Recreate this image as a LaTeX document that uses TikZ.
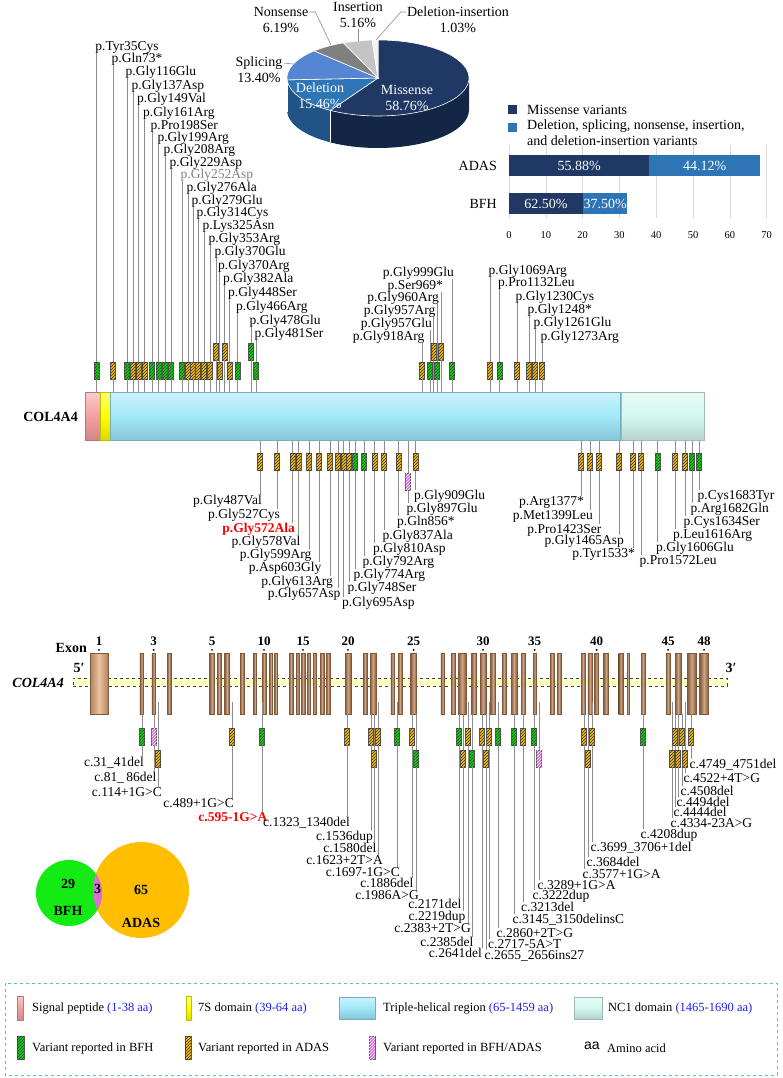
\documentclass[tikz,border=0pt]{standalone}
\usepackage{fontspec}
\setmainfont{Liberation Serif}
\newfontfamily\aafont{Liberation Sans}
\usetikzlibrary{patterns}

\definecolor{missc}{RGB}{31,56,100}
\definecolor{missd}{RGB}{20,38,70}
\definecolor{delc}{RGB}{46,117,182}
\definecolor{deld}{RGB}{32,84,134}
\definecolor{splc}{RGB}{84,134,212}
\definecolor{spld}{RGB}{60,100,170}
\definecolor{nonc}{RGB}{128,128,128}
\definecolor{insc}{RGB}{196,196,196}
\definecolor{dinc}{RGB}{242,242,242}
\definecolor{barmis}{RGB}{31,56,100}
\definecolor{barot}{RGB}{46,117,182}
\definecolor{sigc}{RGB}{244,160,160}
\definecolor{sevc}{RGB}{255,255,0}
\definecolor{thc}{RGB}{160,232,250}
\definecolor{ncc}{RGB}{212,248,240}
\definecolor{vgc}{RGB}{0,220,0}
\definecolor{voc}{RGB}{255,192,0}
\definecolor{vpc}{RGB}{226,104,232}
\definecolor{exd}{RGB}{128,88,60}
\definecolor{exl}{RGB}{205,165,130}
\definecolor{ex1d}{RGB}{180,130,95}
\definecolor{ex1l}{RGB}{235,195,160}
\definecolor{glc}{RGB}{255,255,200}
\definecolor{vnor}{RGB}{255,190,0}
\definecolor{vngr}{RGB}{20,235,20}
\definecolor{vnpk}{RGB}{218,112,214}
\definecolor{legc}{RGB}{80,200,180}
\definecolor{aac}{RGB}{30,30,240}

\begin{document}
\begin{tikzpicture}[x=1pt,y=-1pt,
  lbl/.style={inner sep=0pt,font=\fontsize{13.5}{15}\selectfont},
  pielbl/.style={inner sep=0pt,align=center,font=\fontsize{14}{16}\selectfont},
  leg/.style={inner sep=0pt,anchor=west,font=\fontsize{12.5}{14}\selectfont},
  bld/.style={inner sep=0pt,font=\fontsize{14}{16}\selectfont\bfseries},
  varbox/.style={draw=black!65,line width=0.4pt,minimum width=5pt,minimum height=17pt,inner sep=0pt},
  vg/.style={varbox,fill=vgc,postaction={pattern=north east lines,pattern color=black!80}},
  vo/.style={varbox,fill=voc,postaction={pattern=north east lines,pattern color=black!85}},
  vp/.style={varbox,fill=vpc,postaction={pattern=north east lines,pattern color=white}},
  stem/.style={draw=black!45,line width=0.7pt},
  lead/.style={draw=black!45,line width=0.6pt},
  seg/.style={inner sep=0pt,minimum height=48pt,anchor=north west,draw=#1!75!black,line width=0.8pt,
    top color=#1!55!white,bottom color=#1!85!black,middle color=#1},
  barseg/.style={inner sep=0pt,minimum height=21pt,anchor=west,text=white,font=\fontsize{14}{16}\selectfont},
  exon/.style={inner sep=0pt,minimum height=61pt,draw=exd,line width=0.3pt,left color=exd,right color=exd,middle color=exl}]
\useasboundingbox (0,0) rectangle (782,1078);

\begin{scope}[shift={(378,78)},yscale=-1]
  \fill[missd] (238.46:91 and 38) arc[start angle=238.46,end angle=360,x radius=91,y radius=38]
    -- ++(0,-32) arc[start angle=360,end angle=238.46,x radius=91,y radius=38] -- cycle;
  \fill[deld] (182.81:91 and 38) arc[start angle=182.81,end angle=238.46,x radius=91,y radius=38]
    -- ++(0,-32) arc[start angle=238.46,end angle=182.81,x radius=91,y radius=38] -- cycle;
  \fill[spld] (180:91 and 38) arc[start angle=180,end angle=182.81,x radius=91,y radius=38]
    -- ++(0,-32) arc[start angle=182.81,end angle=180,x radius=91,y radius=38] -- cycle;
  \draw[white,line width=0.5pt] (238.46:91 and 38) -- ++(0,-32);
  \draw[white,line width=0.5pt] (182.81:91 and 38) -- ++(0,-32);
  \fill[missc,draw=white,line width=0.6pt] (0,0) -- (-121.54:91 and 38) arc[start angle=-121.54,end angle=90,x radius=91,y radius=38] -- cycle;
  \fill[delc,draw=white,line width=0.6pt] (0,0) -- (182.81:91 and 38) arc[start angle=182.81,end angle=238.46,x radius=91,y radius=38] -- cycle;
  \fill[splc,draw=white,line width=0.6pt] (0,0) -- (134.57:91 and 38) arc[start angle=134.57,end angle=182.81,x radius=91,y radius=38] -- cycle;
  \fill[nonc,draw=white,line width=0.6pt] (0,0) -- (112.28:91 and 38) arc[start angle=112.28,end angle=134.57,x radius=91,y radius=38] -- cycle;
  \fill[insc,draw=white,line width=0.6pt] (0,0) -- (93.7:91 and 38) arc[start angle=93.7,end angle=112.28,x radius=91,y radius=38] -- cycle;
  \fill[dinc,draw=white,line width=0.6pt] (0,0) -- (90:91 and 38) arc[start angle=90,end angle=93.7,x radius=91,y radius=38] -- cycle;
\end{scope}

\node[pielbl,text=white] (misl) at (407,98) {Missense\\58.76\%};
\node[pielbl,text=white] (dell) at (320,96) {Deletion\\15.46\%};
\node[pielbl] (spll) at (259,70) {Splicing\\13.40\%};
\node[pielbl] (nonl) at (281,20) {Nonsense\\6.19\%};
\node[pielbl] (insl) at (358,15) {Insertion\\5.16\%};
\node[pielbl] (dinl) at (458,20) {Deletion-insertion\\1.03\%};
\coordinate (splp) at (293,64);
\coordinate (nonp) at (331,45);
\coordinate (insp) at (358,41);
\coordinate (dinp) at (376,40);
\draw[lead] ([yshift=7pt,xshift=1pt]spll.east) -- (splp);
\draw[lead] ([yshift=8pt,xshift=1pt]nonl.east) -- ++(6,0) -- (nonp);
\draw[lead] ([yshift=-1pt]insl.south) -- (insp);
\draw[lead] ([yshift=8pt,xshift=-1pt]dinl.west) -- ++(-5,0) -- (dinp);

\node[fill=barmis,minimum size=9pt,inner sep=0pt] (lgm) at (512.5,110) {};
\node[pielbl,anchor=west] (lgmt) at (527,110) {Missense variants};
\node[fill=barot,minimum size=9pt,inner sep=0pt] (lgo) at (512.5,128) {};
\node[pielbl,anchor=north west,align=left] (lgot) at (527,120) {Deletion, splicing, nonsense, insertion,\\and deletion-insertion variants};
\foreach \gv in {0,...,7}{
  \draw[black!15,line width=0.6pt] (509+36.8*\gv,145) -- (509+36.8*\gv,218);
  \node[inner sep=0pt,font=\fontsize{10.5}{12}\selectfont] at (509+36.8*\gv,235) {\pgfmathparse{int(10*\gv)}\pgfmathresult};
}
\node[barseg,fill=barmis,minimum width=139.8] (adm) at (509,165.5) {55.88\%};
\node[barseg,fill=barot,minimum width=110.4] (ado) at (adm.east) {44.12\%};
\node[barseg,fill=barmis,minimum width=73.6] (bfm) at (509,203.5) {62.50\%};
\node[barseg,fill=barot,minimum width=44.2] (bfo) at (bfm.east) {37.50\%};
\node[pielbl,anchor=east] (adt) at (497,165.5) {ADAS};
\node[pielbl,anchor=east] (bft) at (497,203.5) {BFH};

\node[seg=sigc,minimum width=15] (sigp) at (85,392) {};
\node[seg=sevc,minimum width=10] (sevs) at (100,392) {};
\node[seg=thc,minimum width=510] (thel) at (110,392) {};
\node[seg=ncc,minimum width=83] (nc1) at (621,392) {};
\node[bld,anchor=east] (pname) at (78,417) {COL4A4};

\foreach \sx/\by/\cl/\an/\lx/\ly/\tx [count=\i] in {
  96.7/370.5/vg/west/95.2/47/p.Tyr35Cys, 113/370.5/vo/west/111.5/59/p.Gln73*,
  127/370.5/vg/west/125.5/72/p.Gly116Glu, 133/370.5/vo/west/131.5/86/p.Gly137Asp,
  138.5/370.5/vo/west/137/99/p.Gly149Val, 144.5/370.5/vo/west/143/113/p.Gly161Arg,
  152/370.5/vg/west/150.5/126/p.Pro198Ser, 158.8/370.5/vg/west/157.3/138/p.Gly199Arg,
  165/370.5/vg/west/163.5/150/p.Gly208Arg, 171/370.5/vg/west/169.5/163/p.Gly229Asp,
  182/370.5/vg/west/180.5/175/{\textcolor{black!50}{p.Gly252Asp}}, 188/370.5/vo/west/186.5/188/p.Gly276Ala,
  193/370.5/vo/west/191.5/201/p.Gly279Glu, 198/370.5/vo/west/196.5/213/p.Gly314Cys,
  204/370.5/vo/west/202.5/226/p.Lys325Asn, 210/370.5/vo/west/208.5/239/p.Gly353Arg,
  216/351.5/vo/west/214.5/252/p.Gly370Glu, 219.5/370.5/vo/west/218/266/p.Gly370Arg,
  224.5/351.5/vo/west/223/279/p.Gly382Ala, 229.5/370.5/vo/west/228/293/p.Gly448Ser,
  237.5/370.5/vg/west/236/307/p.Gly466Arg, 251/351.5/vg/west/249.5/321/p.Gly478Glu,
  256/370.5/vg/west/254.5/334/p.Gly481Ser,
  452/370.5/vg/east/454/273/p.Gly999Glu, 441/351.5/vo/east/443/286/p.Ser969*,
  437/370.5/vg/east/439/298/p.Gly960Arg, 433.5/351.5/vo/east/435.5/311/p.Gly957Arg,
  430/370.5/vg/east/432/324/p.Gly957Glu, 422/370.5/vo/east/424.5/337/p.Gly918Arg,
  490/370.5/vo/west/488.5/271/p.Gly1069Arg, 499.5/370.5/vg/west/498/283/p.Pro1132Leu,
  517/370.5/vo/west/515.5/297/p.Gly1230Cys, 529/370.5/vo/west/527.5/310/p.Gly1248*,
  535/370.5/vo/west/533.5/323/p.Gly1261Glu, 542/370.5/vo/west/540.5/337/p.Gly1273Arg}{
  \node[\cl] (tv\i) at (\sx,\by) {};
  \node[lbl,anchor=\an] (tl\i) at (\lx,\ly) {\tx};
  \draw[stem] (tv\i.north) -- (tv\i.north |- tl\i.south);
  \draw[stem] (tv\i.south) -- (tv\i.south |- thel.north);
}

\foreach \sx/\by/\cl/\an/\lx/\ly/\tx [count=\i] in {
  260/462/vo/east/262/501/p.Gly487Val, 277/462/vo/east/280/515/p.Gly527Cys,
  292.5/462/vo/east/295/529/{\textcolor{red}{\bfseries p.Gly572Ala}}, 298.5/462/vo/east/300.5/542/p.Gly578Val,
  309/462/vo/east/311.5/555/p.Gly599Arg, 319/462/vo/east/321.5/568/p.Asp603Gly,
  330/462/vo/east/333/582/p.Gly613Arg, 338/462/vo/east/340.5/594/p.Gly657Asp,
  343.6/462/vo/west/342/603/p.Gly695Asp, 349/462/vo/west/347.5/588/p.Gly748Ser,
  355/462/vg/west/353.5/575/p.Gly774Arg, 364/462/vg/west/362.5/562/p.Gly792Arg,
  374.6/462/vo/west/373/549/p.Gly810Asp, 384/462/vo/west/382.5/536/p.Gly837Ala,
  398.6/462/vo/west/397/522/p.Gln856*, 408/482/vp/west/406.5/509/p.Gly897Glu,
  415.7/462/vo/west/414/496/p.Gly909Glu,
  581/462/vo/east/584/502/p.Arg1377*, 590/462/vo/east/593/516/p.Met1399Leu,
  599/462/vo/east/601.5/530/p.Pro1423Ser, 619/462/vo/east/624/541/p.Gly1465Asp,
  633/462/vo/east/635/554/p.Tyr1533*, 641/462/vo/west/639.5/561/p.Pro1572Leu,
  657.5/462/vg/west/656/548/p.Gly1606Glu, 675/462/vo/west/673/535/p.Leu1616Arg,
  685/462/vo/west/683.5/522/p.Cys1634Ser, 692/462/vg/west/690.5/509/p.Arg1682Gln,
  699/462/vg/west/697.5/496/p.Cys1683Tyr}{
  \node[\cl] (bv\i) at (\sx,\by) {};
  \node[lbl,anchor=\an] (bl\i) at (\lx,\ly) {\tx};
  \draw[stem] (bv\i.north |- thel.south) -- (bv\i.north);
  \draw[stem] (bv\i.south) -- (bv\i.south |- bl\i.north);
}

\node[draw=black!75,dashed,fill=glc,line width=0.6pt,minimum width=654,minimum height=8,inner sep=0pt,anchor=west] (gline) at (73,682) {};
\node[exon,minimum width=18,left color=ex1d,right color=ex1d,middle color=ex1l] (ex1) at (99,683.5) {};
\foreach \ex/\ew [count=\i from 2] in {141.7/3.5, 153.7/3.5, 169/3.5, 212/5, 219/3.5, 227/5, 242/3.5, 255/3,
  264/3.5, 271/3, 276/3, 291/3.5, 297.5/3, 303/3.5, 308.7/3, 314.5/3, 322/3.5, 328/3.5, 348/6, 365/3.5,
  373/6, 392.6/3.5, 400/4, 413.6/6, 442.6/3.5, 453/4, 462/8, 474/5, 483/6, 493/5, 504/4, 514/6, 523/4,
  534.6/3, 552/4, 559/4, 583/4, 590/4.5, 596.6/4, 606/5, 620.7/4, 628/1.5, 643/4, 668/4, 678/6, 691.7/9, 704/9}
  \node[exon,minimum width=\ew] (ex\i) at (\ex,683.5) {};
\foreach \k in {1,3,5,10,15,20,25,30,35,40,45,48}{
  \fill (ex\k.north) ++(0,-3) circle (1.1);
  \node[bld,font=\fontsize{13}{15}\selectfont\bfseries] at (ex\k |- 0,641) {\k};
}
\node[bld,anchor=east] (exlbl) at (87,648) {Exon};
\node[bld,font=\fontsize{14}{16}\selectfont\bfseries\itshape,anchor=east] (gname) at (64,683) {COL4A4};
\node[bld] (fivep) at (79,668) {5′};
\node[bld] (threep) at (731,668) {3′};

\foreach \sx/\sy/\by/\cl/\an/\lx/\ly/\tx [count=\i] in {
  142/714/736.5/vg/east/144/763/c.31\_41del, 154/714/736.5/vp/east/156.5/778/c.81\_\,86del,
  158/702/758.5/vo/east/162/792/c.114+1G>C, 232/702/736.5/vo/east/234/803/c.489+1G>C,
  262/702/736.5/vg/east/267.5/817/{\textcolor{red}{\bfseries c.595-1G>A}}, 347/714/736.5/vo/east/350/823/c.1323\_1340del,
  371/714/736.5/vo/east/373/837/c.1536dup, 374/714/758.5/vo/east/376.5/848/c.1580del,
  378/702/736.5/vo/east/383/860/c.1623+2T>A, 397/702/736.5/vg/east/400/872/c.1697-1G>C,
  412/714/736.5/vo/east/413.5/883/c.1886del, 416/714/758.5/vg/east/419/895/c.1986A>G,
  459/714/736.5/vg/east/461.5/904/c.2171del, 463/714/758.5/vo/east/465.5/917/c.2219dup,
  468/702/736.5/vo/east/471/928/c.2383+2T>G, 472/714/758.5/vg/east/473.5/942/c.2385del,
  482/714/736.5/vo/east/482/953/c.2641del, 486/714/758.5/vo/west/484.5/956/c.2655\_2656ins27,
  489/702/736.5/vo/west/488/944/c.2717-5A>T, 498/702/736.5/vg/west/496.5/933/c.2860+2T>G,
  514/714/736.5/vg/west/512.5/920/c.3145\_3150delinsC, 523/714/736.5/vo/west/521/907/c.3213del,
  534/714/736.5/vg/west/532.5/896/c.3222dup, 539/702/758.5/vp/west/537.5/885/c.3289+1G>A,
  584/702/736.5/vo/west/582.5/874/c.3577+1G>A, 588/714/758.5/vo/west/586.5/862/c.3684del,
  592/702/736.5/vo/west/590.5/848/c.3699\_3706+1del, 643/714/736.5/vg/west/640.5/835/c.4208dup,
  672/702/758.5/vo/west/670.5/823/c.4334-23A>G, 675/714/736.5/vo/west/673.5/812/c.4444del,
  678/714/758.5/vo/west/676.5/802/c.4494del, 682/714/736.5/vo/west/680.5/791/c.4508del,
  685/702/758.5/vo/west/683.5/778/c.4522+4T>G, 691/714/736.5/vo/west/689.5/765/c.4749\_4751del}{
  \coordinate (gs\i) at (\sx,\sy);
  \node[\cl] (gv\i) at (\sx,\by) {};
  \node[lbl,anchor=\an] (gl\i) at (\lx,\ly) {\tx};
  \draw[stem] (gs\i) -- (gv\i.north);
  \draw[stem] (gv\i.south) -- (gv\i.south |- gl\i.north);
}

\node[circle,fill=vnor,minimum size=96,inner sep=0pt] (adasc) at (141,890) {};
\node[circle,fill=vngr,minimum size=66,inner sep=0pt] (bfhc) at (69,893) {};
\begin{scope}
  \clip (141,890) circle (48);
  \fill[vnpk] (69,893) circle (33);
\end{scope}
\node[bld] (n29) at (68,884) {29};
\node[bld] (nbfh) at (68,911) {BFH};
\node[bld] (n3) at (97.5,889) {3};
\node[bld] (n65) at (141,890) {65};
\node[bld] (nadas) at (141,923) {ADAS};

\draw[legc,dashed,line width=1pt] (5,983) rectangle (777,1075);
\node[seg=sigc,minimum width=6,minimum height=24,anchor=center] (lsig) at (20.5,1008) {};
\node[leg] (tsig) at (32,1008) {Signal peptide \textcolor{aac}{(1-38 aa)}};
\node[seg=sevc,minimum width=5,minimum height=24,anchor=center] (lsev) at (188.5,1008) {};
\node[leg] (tsev) at (198,1008) {7S domain \textcolor{aac}{(39-64 aa)}};
\node[seg=thc,minimum width=36,minimum height=22,anchor=center] (lth) at (357,1008) {};
\node[leg] (tth) at (383,1008) {Triple-helical region \textcolor{aac}{(65-1459 aa)}};
\node[seg=ncc,minimum width=28,minimum height=22,anchor=center] (lnc) at (588,1008) {};
\node[leg] (tnc) at (608,1008) {NC1 domain \textcolor{aac}{(1465-1690 aa)}};
\node[vg,minimum width=7,minimum height=23] (lvg) at (20.5,1048) {};
\node[leg] (tvg) at (32,1048) {Variant reported in BFH};
\node[vo,minimum width=6,minimum height=23] (lvo) at (188,1048) {};
\node[leg] (tvo) at (198,1048) {Variant reported in ADAS};
\node[vp,minimum width=6,minimum height=23] (lvp) at (372,1048) {};
\node[leg] (tvp) at (383,1048) {Variant reported in BFH/ADAS};
\node[leg,font=\fontsize{14}{16}\aafont] (taa) at (584,1046) {aa};
\node[leg] (tam) at (607,1048) {Amino acid};
\end{tikzpicture}
\end{document}
